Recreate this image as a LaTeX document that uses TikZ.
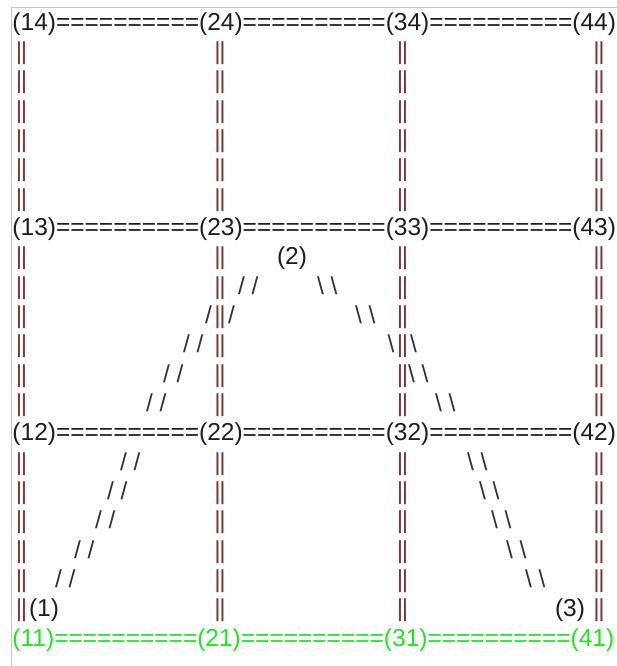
\documentclass[tikz,border=0pt]{standalone}
\usepackage{fontspec}
\setmainfont{Liberation Sans}
\usetikzlibrary{positioning}

\begin{document}
\begin{tikzpicture}[
    x=1pt, y=-1pt,
    % one line of text per row, rows 29.33 apart
    txt/.style={inner sep=0pt, outer sep=0pt, text height=0.73em, text depth=0.21em,
        font=\fontsize{24.5}{29}\selectfont},
    vertexText/.style={txt, anchor=west},
    edgeText/.style={txt, text=inkColor},
    barText/.style={txt, anchor=center, text=barColor},
    slashText/.style={txt, anchor=west, text=slashColor},
    pointText/.style={txt, anchor=west, text=inkColor}
    ]
    
    % Colors
    \definecolor{inkColor}{HTML}{1E1E1E}
    \definecolor{greenColor}{HTML}{1EE61E}
    \definecolor{barColor}{HTML}{7A3838}
    \definecolor{slashColor}{HTML}{333333}
    \definecolor{frameColor}{HTML}{C4C4C4}
    
    % Parameters
    \def\rowH{29.33}
    \def\topY{27.5}
    
    \useasboundingbox (0,0) rectangle (617,666);
    
    % Frame
    \draw[frameColor, line width=1pt] (11.5,666) -- (11.5,7.5) -- (617,7.5);
    
    % Vertex rows with their ===== links
    \foreach \r/\k/\col in {4/0/inkColor, 3/7/inkColor, 2/14/inkColor, 1/21/greenColor} {
        \node[vertexText, text=\col] (n1\r) at (12.5,{\topY+\rowH*\k}) {(1\r)};
        \node[edgeText, text=\col, right=0pt of n1\r] (e1\r) {==========};
        \node[vertexText, text=\col, right=0pt of e1\r] (n2\r) {(2\r)};
        \node[edgeText, text=\col, right=0pt of n2\r] (e2\r) {==========};
        \node[vertexText, text=\col, right=0pt of e2\r] (n3\r) {(3\r)};
        \node[edgeText, text=\col, right=0pt of n3\r] (e3\r) {==========};
        \node[vertexText, text=\col, right=0pt of e3\r] (n4\r) {(4\r)};
    }
    
    % Vertical || links
    \foreach \c/\xx in {1/21.5, 2/220, 3/402.5, 4/599}
        \foreach \i in {1,...,6,8,9,...,13,15,16,...,20}
            \node[barText] (v\c-\i) at (\xx,{\topY+\rowH*\i}) {|\kern-1.5pt|};
    
    % Left path (1) -> (2)
    \foreach \i/\xx in {9/238, 11/183, 12/163, 13/146, 15/120, 16/107, 17/95, 18/74, 19/55}
        \node[slashText] (sl\i) at (\xx,{\topY+\rowH*\i}) {/ /};
    \node[slashText] (sl10a) at (205,{\topY+\rowH*10}) {/};
    \node[slashText] (sl10b) at (228,{\topY+\rowH*10}) {/};
    
    % Right path (2) -> (3)
    \foreach \i/\xx in {9/317, 10/355, 12/408, 13/435, 15/467, 16/479, 17/491, 18/506, 19/525}
        \node[slashText] (sr\i) at (\xx,{\topY+\rowH*\i}) {\textbackslash{} \textbackslash};
    \node[slashText] (sr11a) at (387.5,{\topY+\rowH*11}) {\textbackslash};
    \node[slashText] (sr11b) at (410,{\topY+\rowH*11}) {\textbackslash};
    
    % Points
    \node[pointText] (p1) at (29,{\topY+\rowH*20}) {(1)};
    \node[pointText] (p2) at (277,{\topY+\rowH*8}) {(2)};
    \node[pointText] (p3) at (555,{\topY+\rowH*20}) {(3)};
\end{tikzpicture}
\end{document}
